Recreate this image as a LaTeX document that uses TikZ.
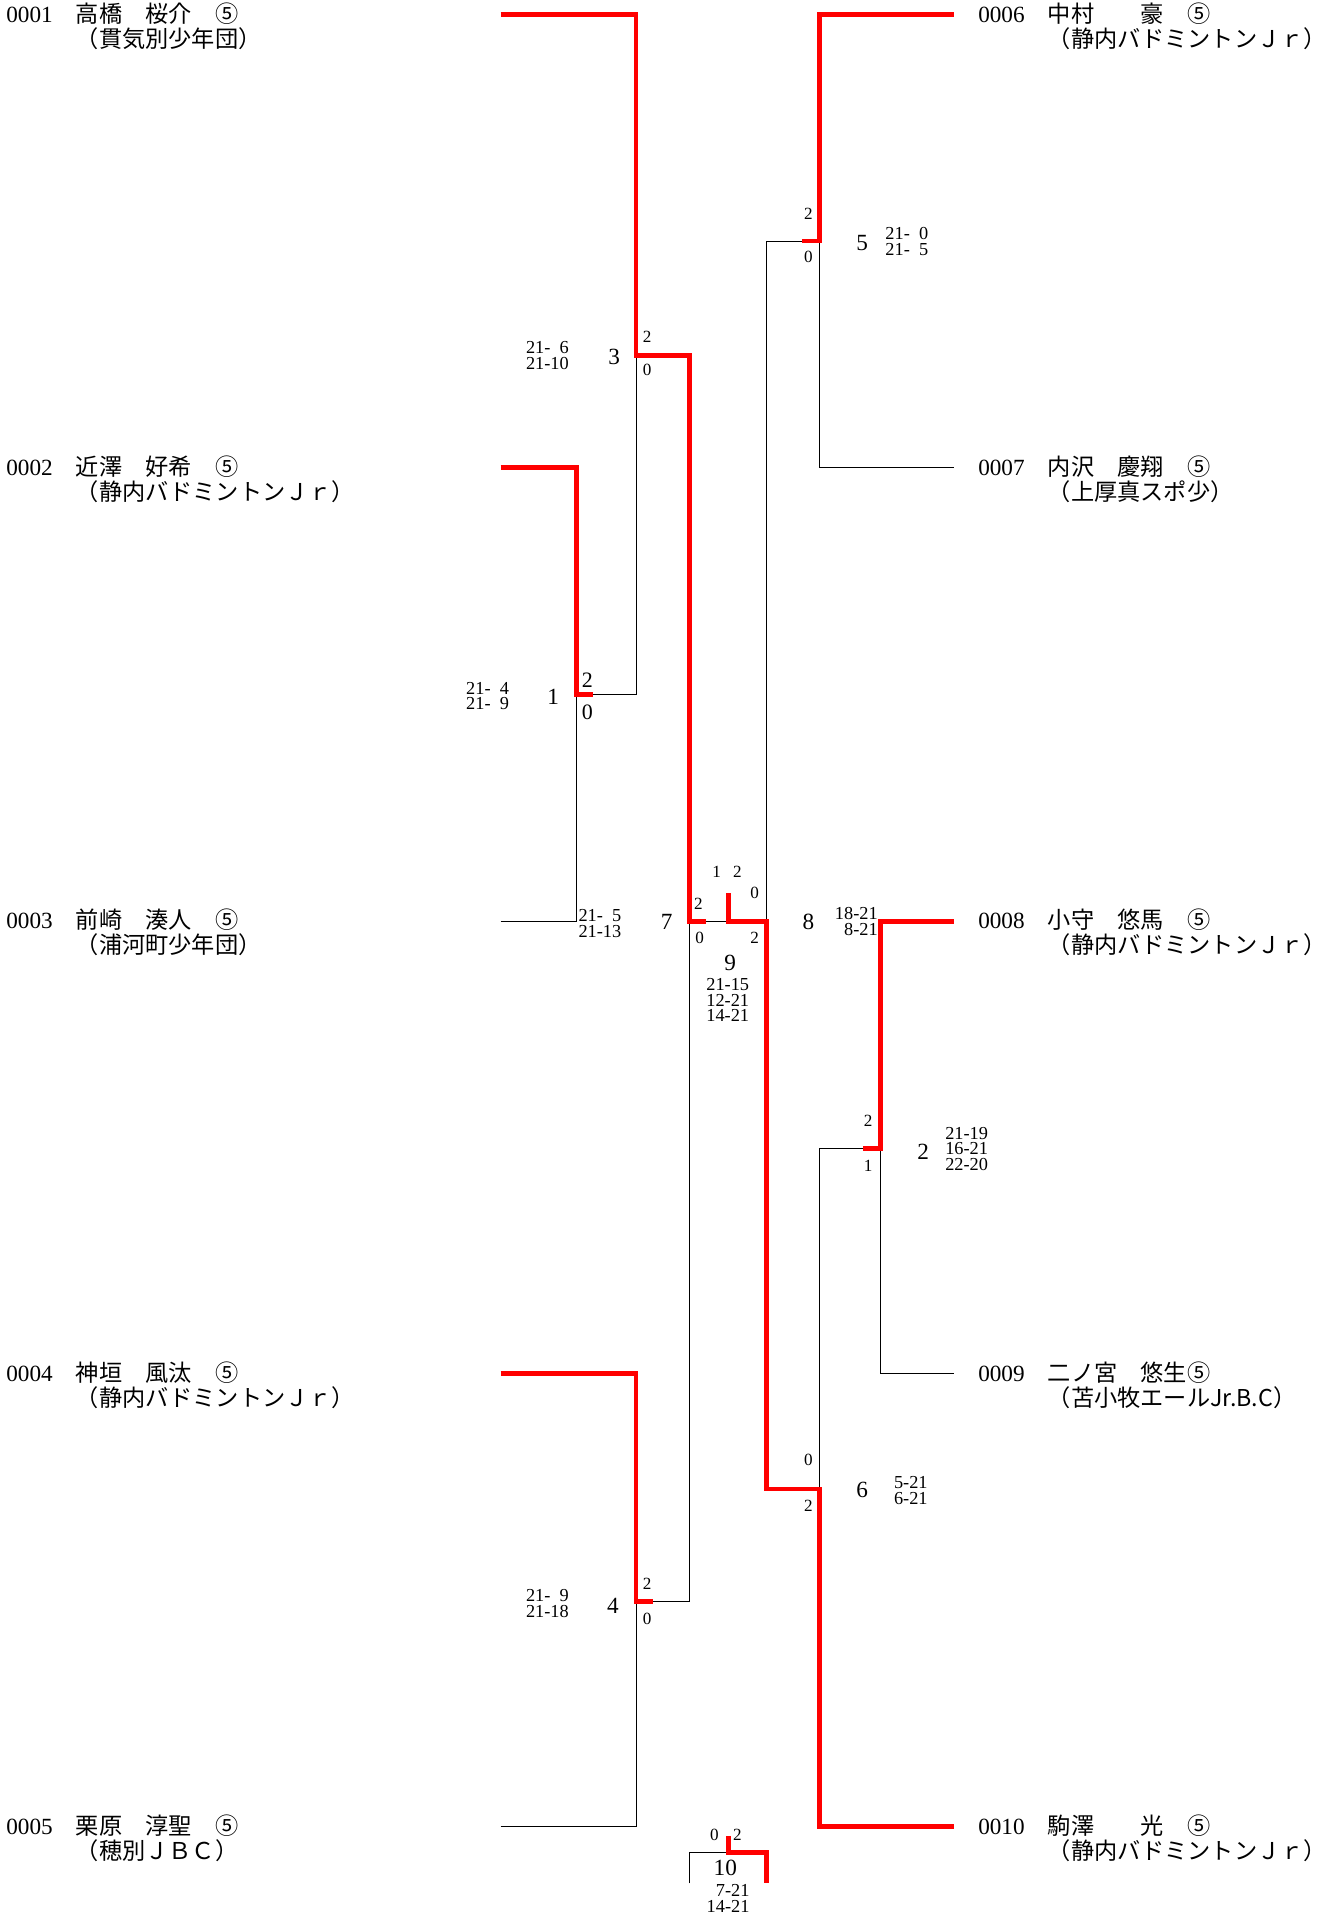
\documentclass[tikz,border=0pt]{standalone}
\usepackage{fontspec}
\setmainfont{Liberation Serif}
\newfontfamily\cjk{Noto Sans CJK JP}
\tikzset{
  win/.style={red,line width=3.8pt},
  lose/.style={black,line width=0.8pt},
  player/.style={anchor=base west,inner sep=0pt,font=\fontsize{19}{19}\selectfont},
  matchno/.style={inner sep=0pt,font=\fontsize{19}{19}\selectfont},
  games/.style={inner sep=0pt,font=\fontsize{14}{14}\selectfont},
  scores/.style={inner sep=0pt,align=right,font=\fontsize{15}{13}\selectfont},
}
\begin{document}
\begin{tikzpicture}[x=1pt,y=-1pt]
    \useasboundingbox (0,0) rectangle (1086,1570);

    \node[player] (p1) at (5,18.5) {0001{\cjk 　高橋　桜介　⑤}};
    \node[player] (c1) at (5,38.5) {\cjk 　　　（貫気別少年団）};
    \node[player] (p2) at (5,389.5) {0002{\cjk 　近澤　好希　⑤}};
    \node[player] (c2) at (5,409.5) {\cjk 　　　（静内バドミントンＪｒ）};
    \node[player] (p3) at (5,760.5) {0003{\cjk 　前崎　湊人　⑤}};
    \node[player] (c3) at (5,780.5) {\cjk 　　　（浦河町少年団）};
    \node[player] (p4) at (5,1131.5) {0004{\cjk 　神垣　風汰　⑤}};
    \node[player] (c4) at (5,1151.5) {\cjk 　　　（静内バドミントンＪｒ）};
    \node[player] (p5) at (5,1502.5) {0005{\cjk 　栗原　淳聖　⑤}};
    \node[player] (c5) at (5,1522.5) {\cjk 　　　（穂別ＪＢＣ）};

    \node[player] (p6) at (801,18.5) {0006{\cjk 　中村　　豪　⑤}};
    \node[player] (c6) at (801,38.5) {\cjk 　　　（静内バドミントンＪｒ）};
    \node[player] (p7) at (801,389.5) {0007{\cjk 　内沢　慶翔　⑤}};
    \node[player] (c7) at (801,409.5) {\cjk 　　　（上厚真スポ少）};
    \node[player] (p8) at (801,760.5) {0008{\cjk 　小守　悠馬　⑤}};
    \node[player] (c8) at (801,780.5) {\cjk 　　　（静内バドミントンＪｒ）};
    \node[player] (p9) at (801,1131.5) {0009{\cjk 　二ノ宮　悠生⑤}};
    \node[player] (c9) at (801,1151.5) {\cjk 　　　（苫小牧エールJr.B.C）};
    \node[player] (p10) at (801,1502.5) {0010{\cjk 　駒澤　　光　⑤}};
    \node[player] (c10) at (801,1522.5) {\cjk 　　　（静内バドミントンＪｒ）};

    \coordinate (e1) at (410,12);
    \coordinate (e2) at (410,383);
    \coordinate (e3) at (410,754.5);
    \coordinate (e4) at (410,1125);
    \coordinate (e5) at (410,1496);
    \coordinate (e6) at (781,12);
    \coordinate (e7) at (781,383);
    \coordinate (e8) at (781,754.5);
    \coordinate (e9) at (781,1125);
    \coordinate (e10) at (781,1496);

    \coordinate (j1) at (472,569);
    \coordinate (j3) at (521,291);
    \coordinate (j4) at (521,1311.5);
    \coordinate (j7) at (564.5,754.5);
    \coordinate (j9) at (596.5,754.5);
    \coordinate (j8) at (628,754.5);
    \coordinate (j5) at (671,197.5);
    \coordinate (j2) at (721,940.5);
    \coordinate (j6) at (671,1219.5);
    \coordinate (j10) at (596.5,1517);
    \coordinate (k10a) at (565,1542.5);
    \coordinate (k10b) at (627.5,1542.5);

    \draw[lose] (e3) -| (j1);
    \draw[lose] (j1) ++(14,0) -| (j3);
    \draw[lose] (e5) -| (j4);
    \draw[lose] (j4) ++(14,0) -| (j7);
    \draw[lose] (j7) ++(14,0) -- (j9);
    \draw[lose] (e7) -| (j5);
    \draw[lose] (j5) ++(-14,0) -| (j8);
    \draw[lose] (e9) -| (j2);
    \draw[lose] (j2) ++(-14,0) -| (j6);
    \draw[lose] (k10a) |- (j10);

    \draw[win] (e2) -| (j1) -- ++(14,0);
    \draw[win] (e1) -| (j3) -| (j7) -- ++(14,0);
    \draw[win] (e4) -| (j4) -- ++(14,0);
    \draw[win] (e6) -| (j5) -- ++(-14,0);
    \draw[win] (e8) -| (j2) -- ++(-14,0);
    \draw[win] (e10) -| (j6) -| (j8) -- (j9) -- ++(0,-23.5);
    \draw[win] (j10) ++(0,-13) -- (j10) -| (k10b);

    \node[matchno] (n1) at (453,571) {1};
    \node[matchno] (n3) at (503,292) {3};
    \node[matchno] (n4) at (502,1315) {4};
    \node[matchno] (n7) at (546,755) {7};
    \node[matchno] (n9) at (598,789) {9};
    \node[matchno] (n5) at (706,199) {5};
    \node[matchno] (n8) at (662,755) {8};
    \node[matchno] (n2) at (756,943) {2};
    \node[matchno] (n6) at (706,1220) {6};
    \node[matchno] (n10) at (594,1530) {10};

    \node[games,font=\fontsize{18}{18}\selectfont] (g1a) at (481,557) {2};
    \node[games,font=\fontsize{18}{18}\selectfont] (g1b) at (481,583) {0};
    \node[games] (g3a) at (530,276) {2};
    \node[games] (g3b) at (530,303) {0};
    \node[games] (g4a) at (530,1297) {2};
    \node[games] (g4b) at (530,1326) {0};
    \node[games] (g7a) at (572,740) {2};
    \node[games] (g7b) at (573,768) {0};
    \node[games] (g9a) at (587,714) {1};
    \node[games] (g9b) at (604,714) {2};
    \node[games] (g8a) at (618,731) {0};
    \node[games] (g8b) at (618,768) {2};
    \node[games] (g5a) at (662,175) {2};
    \node[games] (g5b) at (662,210) {0};
    \node[games] (g2a) at (711,918) {2};
    \node[games] (g2b) at (711,955) {1};
    \node[games] (g6a) at (662,1196) {0};
    \node[games] (g6b) at (662,1233) {2};
    \node[games] (g10a) at (585,1503) {0};
    \node[games] (g10b) at (604,1503) {2};

    \node[scores,anchor=east] (s1) at (417,570) {21-\hphantom{0}4\\21-\hphantom{0}9};
    \node[scores,anchor=east] (s3) at (466,291) {21-\hphantom{0}6\\21-10};
    \node[scores,anchor=east] (s4) at (466,1313) {21-\hphantom{0}9\\21-18};
    \node[scores,anchor=east] (s7) at (509,756) {21-\hphantom{0}5\\21-13};
    \node[scores,anchor=west,align=left] (s5) at (725,197.5) {21-\hphantom{0}0\\21-\hphantom{0}5};
    \node[scores,anchor=east] (s8) at (719,755) {18-21\\8-21};
    \node[scores,anchor=west,align=left] (s2) at (774,941) {21-19\\16-21\\22-20};
    \node[scores,anchor=west,align=left] (s6) at (732,1221) {5-21\\6-21};
    \node[scores,align=center] (s9) at (596,819) {21-15\\12-21\\14-21};
    \node[scores,anchor=east] (s10) at (614,1555) {7-21\\14-21};
\end{tikzpicture}
\end{document}
